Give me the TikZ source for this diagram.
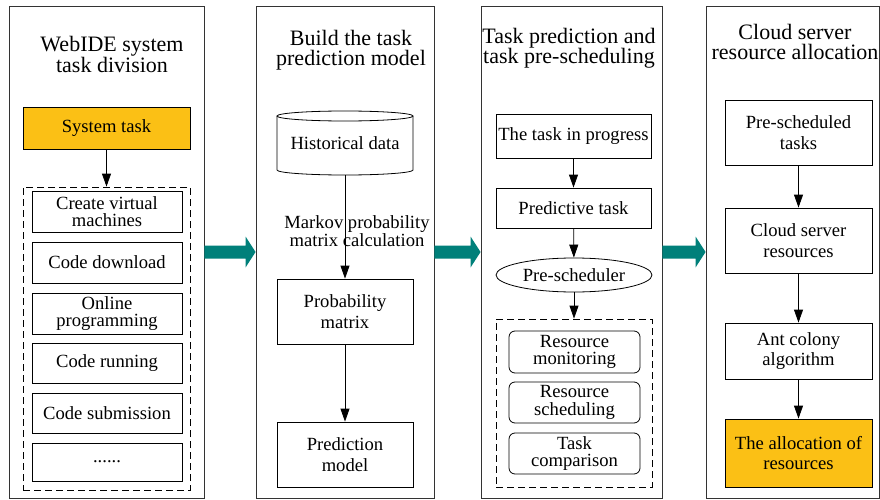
\documentclass[tikz,border=0pt]{standalone}
\usepackage{fontspec}
\setmainfont{Liberation Serif}
\usepackage{xcolor}
\usetikzlibrary{arrows.meta}
\usetikzlibrary{shapes.geometric}
\definecolor{taskorange}{RGB}{251,192,21}
\definecolor{flowteal}{RGB}{0,128,122}
\newcommand{\bodyfont}{\fontsize{18.6}{17.5}\selectfont}
\newcommand{\loosefont}{\fontsize{18.6}{20.5}\selectfont}
\newcommand{\headfont}{\fontsize{22}{20}\selectfont}
% thick teal arrow from one stage to the next
\newcommand{\flowarrow}[2]{%
\fill[flowteal] ([yshift=6.5pt]#1.east) -- ([xshift=-10pt,yshift=6.5pt]#2.west)
-- ([xshift=-10pt,yshift=15.5pt]#2.west) -- (#2.west)
-- ([xshift=-10pt,yshift=-15.5pt]#2.west) -- ([xshift=-10pt,yshift=-6.5pt]#2.west)
-- ([yshift=-6.5pt]#1.east) -- cycle;}
\tikzset{
stage/.style={draw=black!80, line width=0.9pt, minimum width=#1, minimum height=492pt, inner sep=0pt},
head/.style={align=center, font=\headfont},
box/.style={draw, line width=0.8pt, align=center, inner sep=0pt, font=\bodyfont},
loose/.style={font=\loosefont},
dashbox/.style={draw, dash pattern=on 7pt off 4pt, line width=0.8pt, inner sep=0pt},
flow/.style={-{Triangle[length=13pt,width=9pt]}, line width=0.8pt}
}
\begin{document}
\begin{tikzpicture}[x=1pt,y=1pt]
\useasboundingbox (0,0) rectangle (880,-500);
% the four stages
\node[stage=195pt] (s1) at (106.5,-252) {};
\node[stage=178pt] (s2) at (345,-252) {};
\node[stage=181pt] (s3) at (571.5,-252) {};
\node[stage=173pt] (s4) at (792.5,-252) {};
\node[head] (h1) at (112,-54) {WebIDE system\\task division};
\node[head] (h2) at (351,-50) {Build the task\\prediction model};
\node[head] (h3) at (569,-48) {Task prediction and\\task pre-scheduling};
\node[head] (h4) at (795,-42) {Cloud server\\resource allocation};

% stage 1
\node[box, fill=taskorange, minimum width=167pt, minimum height=42pt] (sys) at (106.5,-128) {System task};
\node[dashbox, minimum width=167pt, minimum height=303pt] (d1) at (106.5,-338.5) {};
\node[box, minimum width=150pt, minimum height=41pt] (vm) at (107,-211.5) {Create virtual\\machines};
\node[box, minimum width=150pt, minimum height=41pt] (dl) at (107,-262.5) {Code download};
\node[box, minimum width=150pt, minimum height=41pt] (op) at (107,-313.5) {Online\\programming};
\node[box, minimum width=150pt, minimum height=40pt] (run) at (107,-363.5) {Code running};
\node[box, minimum width=150pt, minimum height=40pt] (sub) at (107,-413.5) {Code submission};
\node[box, minimum width=150pt, minimum height=38pt] (etc) at (107,-462) {......};
\draw[flow] (sys) -- (d1);

% stage 2
\node[inner sep=0pt, outer sep=0pt, minimum width=136pt, minimum height=64pt, font=\bodyfont] (hist) at (345,-143) {Historical data};
\draw[line width=0.8pt] ([yshift=-5pt]hist.north west) -- ([yshift=5pt]hist.south west)
 arc[start angle=180, end angle=360, x radius=68pt, y radius=5pt] -- ([yshift=-5pt]hist.north east);
\draw[line width=0.8pt] ([yshift=-5pt]hist.north) ellipse [x radius=68pt, y radius=5pt];
\node[box, loose, minimum width=136pt, minimum height=65pt] (prob) at (345,-311.5) {Probability\\matrix};
\node[box, loose, minimum width=136pt, minimum height=65pt] (pred) at (345,-454.5) {Prediction\\model};
\node[align=center, font=\bodyfont] (mk) at (357,-231) {Markov probability\\matrix calculation};
\draw[flow] (hist) -- (prob);
\draw[flow] (prob) -- (pred);

% stage 3
\node[box, minimum width=155pt, minimum height=44pt] (prog) at (573.5,-136) {The task in progress};
\node[box, minimum width=155pt, minimum height=40pt] (ptask) at (573.5,-208) {Predictive task};
\node[box, ellipse, minimum width=156pt, minimum height=34pt] (presch) at (574,-275) {Pre-scheduler};
\node[dashbox, minimum width=156pt, minimum height=168pt] (d3) at (574,-403) {};
\node[box, rounded corners=6pt, minimum width=131pt, minimum height=42pt] (mon) at (574.5,-352) {Resource\\monitoring};
\node[box, rounded corners=6pt, minimum width=131pt, minimum height=41pt] (sch) at (574.5,-402.5) {Resource\\scheduling};
\node[box, rounded corners=6pt, minimum width=131pt, minimum height=41pt] (cmp) at (574.5,-453.5) {Task\\comparison};
\draw[flow] (prog) -- (ptask);
\draw[flow] (ptask) -- (presch);
\draw[flow] (presch) -- (d3);

% stage 4
\node[box, loose, minimum width=147pt, minimum height=65pt] (pst) at (798.5,-132.5) {Pre-scheduled\\tasks};
\node[box, loose, minimum width=147pt, minimum height=65pt] (csr) at (798.5,-240.5) {Cloud server\\resources};
\node[box, loose, minimum width=147pt, minimum height=56pt] (ant) at (798.5,-351) {Ant colony\\algorithm};
\node[box, loose, fill=taskorange, minimum width=147pt, minimum height=68pt] (alloc) at (798.5,-453) {The allocation of\\resources};
\draw[flow] (pst) -- (csr);
\draw[flow] (csr) -- (ant);
\draw[flow] (ant) -- (alloc);

% links between the stages
\flowarrow{s1}{s2}
\flowarrow{s2}{s3}
\flowarrow{s3}{s4}
\end{tikzpicture}
\end{document}
